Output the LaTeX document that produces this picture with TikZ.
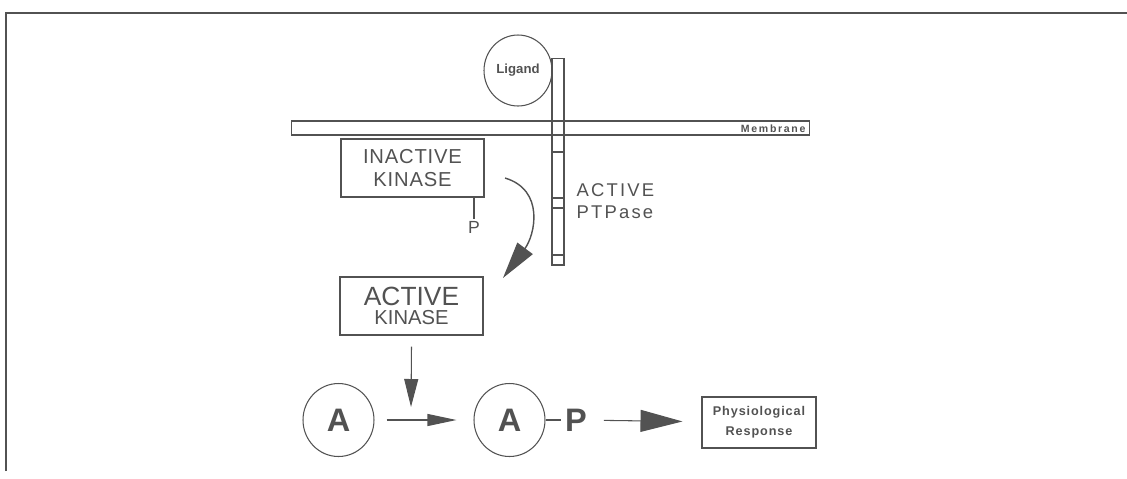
\documentclass[tikz,border=0pt]{standalone}
\usepackage{fontspec}
\setmainfont{Liberation Sans}
\usetikzlibrary{arrows.meta,shapes.geometric}
\definecolor{ink}{gray}{0.32}

\begin{document}
\begin{tikzpicture}[x=0.02cm,y=-0.02cm,color=ink,line width=0.6pt,
    >={Triangle[length=5.8mm,width=2.4mm]},
    kinase/.style={draw,minimum width=2.86cm,minimum height=1.16cm,
                   align=center,inner sep=0pt},
    mol/.style={draw,ellipse,minimum width=1.42cm,minimum height=1.46cm,
                inner sep=0pt,font=\bfseries\fontsize{18.5}{19}\selectfont},
    tag/.style={inner sep=2pt,font=\bfseries\fontsize{18.5}{19}\selectfont}]
    \useasboundingbox (0,0) rectangle (1127,478);
    \draw[line width=1.2pt] (6,471) -- (6,13) -- (1127,13);

    \node[draw,minimum width=10.38cm,minimum height=0.28cm,inner sep=0pt] (membrane) at (550.5,128) {};
    \node[anchor=east,inner sep=0pt,font=\bfseries\fontsize{6}{7}\selectfont] (memlabel) at (806,128.5)
        {\addfontfeature{LetterSpace=16}Membrane};
    \node[draw,ellipse,minimum width=1.36cm,minimum height=1.42cm,inner sep=0pt,
          font=\bfseries\fontsize{7.5}{8}\selectfont] (ligand) at (518,70.5) {Ligand};
    \node[draw,minimum width=0.24cm,minimum height=4.14cm,inner sep=0pt] (ptpase) at (558,161.5) {};
    \foreach \y in {152,198,208,255}
        \draw (ptpase.west |- 0,\y) -- (ptpase.east |- 0,\y);
    \node[anchor=west,align=left,inner sep=0pt,font=\fontsize{10.5}{12.5}\selectfont] (ptlabel) at (576,201.5)
        {\addfontfeature{LetterSpace=12}ACTIVE\\\addfontfeature{LetterSpace=12}PTPase};

    \node[kinase,font=\fontsize{11.5}{12.8}\selectfont] (inactive) at (412.5,168)
        {\addfontfeature{LetterSpace=4}INACTIVE\\\addfontfeature{LetterSpace=4}KINASE};
    \node[inner sep=1pt,font=\fontsize{10}{12}\selectfont] (pin) at (474,227) {P};
    \draw (inactive.south -| pin) -- (pin);

    \coordinate (bendstart) at (505,178);
    \coordinate (bendend) at (503,278);
    \draw[line width=0.8pt,-{Triangle[length=7.4mm,width=3.8mm]}]
        (bendstart) .. controls (545,190) and (535,235) .. (bendend);

    \node[kinase] (active) at (411.5,306)
        {{\fontsize{15}{16}\selectfont ACTIVE}\\[-1pt]{\fontsize{11.5}{12}\selectfont KINASE}};

    \node[mol] (a) at (338.5,420) {A};
    \node[mol] (ap) at (509.5,420) {A};
    \node[tag] (p) at (576,420) {P};
    \node[draw,minimum width=2.28cm,minimum height=1.02cm,align=center,
          font=\bfseries\fontsize{7.2}{11.3}\selectfont] (response) at (759,422.5)
        {\addfontfeature{LetterSpace=7}Physiological\\\addfontfeature{LetterSpace=7}Response};

    \coordinate (join) at (411,407);
    \draw[->,>={Triangle[length=5.6mm,width=2.8mm]}] ([yshift=-2.2mm]active.south) -- (join);
    \draw[->,shorten <=2.4mm,shorten >=3.4mm] (a) -- (ap);
    \draw (ap) -- (p);
    \draw[->,>={Triangle[length=8.4mm,width=4.4mm]},shorten <=2.6mm,shorten >=3.8mm] (p) -- (response);
\end{tikzpicture}
\end{document}
